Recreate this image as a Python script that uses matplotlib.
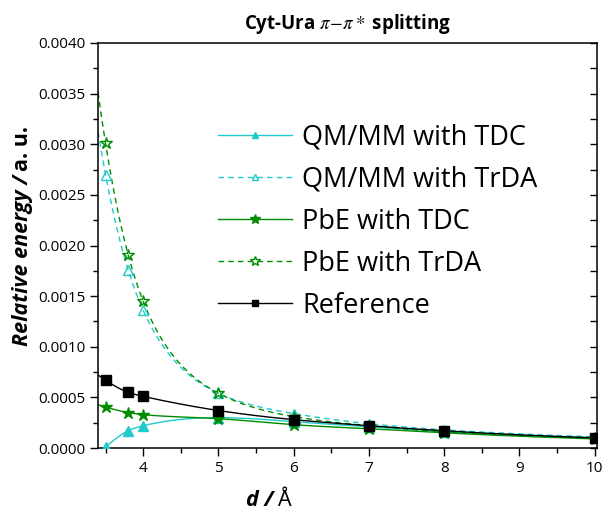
import numpy as np
import matplotlib
matplotlib.use("Agg")
import matplotlib.pyplot as plt
from matplotlib.ticker import MultipleLocator, FormatStrFormatter

plt.rcParams['font.family'] = ['Open Sans', 'DejaVu Sans']
plt.rcParams['mathtext.fontset'] = 'stix'

d = [3.5, 3.8, 4.0, 5.0, 6.0, 7.0, 8.0, 10.0]
qmmm_tdc = [0.00001, 0.00017, 0.00022, 0.00030, 0.00026, 0.00021, 0.00016, 0.00010]
qmmm_trda = [0.00270, 0.00176, 0.00136, 0.00054, 0.00034, 0.00024, 0.00018, 0.00011]
pbe_tdc = [0.000405, 0.00035, 0.00033, 0.00029, 0.00023, 0.00019, 0.00015, 0.00009]
pbe_trda = [0.00301, 0.00191, 0.00145, 0.00054, 0.00031, 0.00022, 0.00016, 0.00010]
reference = [0.00067, 0.00055, 0.00051, 0.00037, 0.00028, 0.00022, 0.00017, 0.00010]

labels = ['QM/MM with TDC', 'QM/MM with TrDA', 'PbE with TDC', 'PbE with TrDA', 'Reference']


def natural_spline(x, y, xs):
    x = np.asarray(x, float); y = np.asarray(y, float)
    n = len(x)
    h = np.diff(x)
    A = np.zeros((n, n)); b = np.zeros(n)
    A[0, 0] = 1; A[-1, -1] = 1
    for i in range(1, n - 1):
        A[i, i - 1] = h[i - 1]
        A[i, i] = 2 * (h[i - 1] + h[i])
        A[i, i + 1] = h[i]
        b[i] = 6 * ((y[i + 1] - y[i]) / h[i] - (y[i] - y[i - 1]) / h[i - 1])
    M = np.linalg.solve(A, b)
    idx = np.clip(np.searchsorted(x, xs) - 1, 0, n - 2)
    x0 = x[idx]; x1 = x[idx + 1]; hh = x1 - x0
    t0 = x1 - xs; t1 = xs - x0
    return (M[idx] * t0**3 / (6 * hh) + M[idx + 1] * t1**3 / (6 * hh)
            + (y[idx] / hh - M[idx] * hh / 6) * t0
            + (y[idx + 1] / hh - M[idx + 1] * hh / 6) * t1)


def smooth(x, y, xs, log=True):
    if log:
        return np.exp(natural_spline(x, np.log(y), xs))
    return natural_spline(x, y, xs)


fig = plt.figure(figsize=(6.02, 5.17), dpi=100)
ax = fig.add_axes([98 / 602, 69 / 517, 499 / 602, 405 / 517])

cyan = '#1ecaca'
green = '#008c00'
xs = np.linspace(3.4, 10.0, 400)
xs_tdc = np.linspace(3.5, 10.0, 400)

series = [
    (qmmm_tdc, cyan, '-', '^', cyan, False, xs_tdc),
    (qmmm_trda, cyan, (0, (4, 3)), '^', 'none', True, xs),
    (pbe_tdc, green, '-', '*', green, True, xs),
    (pbe_trda, green, (0, (4, 3)), '*', 'none', True, xs),
    (reference, 'black', '-', 's', 'black', True, xs),
]
handles = []
for (vals, col, ls, mk, fc, lg, xx), lab in zip(series, labels):
    ax.plot(xx, smooth(d, vals, xx, lg), color=col, ls=ls, lw=1.0, zorder=2)
    ms = 9 if mk == '*' else 7
    ax.plot(d, vals, ls='none', marker=mk, ms=ms, mfc=fc, mec=col, mew=1.0, zorder=3)
    h, = ax.plot([], [], color=col, ls=ls, lw=1.0, marker=mk,
                 ms=(7 if mk == '*' else 5), mfc=fc, mec=col, mew=1.0)
    handles.append(h)

ax.set_xlim(3.4, 10.03)
ax.set_ylim(0, 0.004)
ax.xaxis.set_major_locator(MultipleLocator(1))
ax.xaxis.set_minor_locator(MultipleLocator(0.5))
ax.yaxis.set_major_locator(MultipleLocator(0.0005))
ax.yaxis.set_minor_locator(MultipleLocator(0.00025))
ax.yaxis.set_major_formatter(FormatStrFormatter('%.4f'))
ax.tick_params(axis='both', which='major', direction='out', length=6, width=1,
               labelsize=11, pad=3)
ax.tick_params(axis='both', which='minor', direction='out', length=3.5, width=1)
for sp in ax.spines.values():
    sp.set_linewidth(1.1)

# inward ticks on the right spine
ax2 = ax.twinx()
ax2.set_ylim(ax.get_ylim())
ax2.yaxis.set_major_locator(MultipleLocator(0.00025))
ax2.tick_params(axis='y', direction='in', length=5, width=1, labelright=False)
for sp in ax2.spines.values():
    sp.set_visible(False)

ax.set_title(r'Cyt-Ura $\pi\!-\!\pi*$ splitting', fontsize=13.5, fontweight='bold', pad=10)

fig.canvas.draw()
r = fig.canvas.get_renderer()
inv = fig.transFigure.inverted()

# x label
t1 = fig.text(246 / 602, 1 - 506 / 517, 'd /', fontsize=15.5, fontweight='bold', style='italic',
              ha='left', va='baseline')
bb = t1.get_window_extent(r)
fig.text(inv.transform((bb.x1 + 4, 0))[0], 1 - 506 / 517, 'Å', fontsize=15.5,
         ha='left', va='baseline')

# y label
y1 = fig.text(28 / 602, 1 - 346 / 517, 'Relative energy /', fontsize=15.5, fontweight='bold',
              style='italic', rotation=90, va='baseline', ha='left',
              rotation_mode='anchor')
bb = y1.get_window_extent(r)
fig.text(28 / 602, inv.transform((0, bb.y1 + 4))[1], 'a. u.', fontsize=15.5, fontweight='bold',
         rotation=90, va='baseline', ha='left', rotation_mode='anchor')

ax.legend(handles, labels, loc='upper left', bbox_to_anchor=(0.2405, 0.801), frameon=False,
          fontsize=19.5, handlelength=2.74, handletextpad=0.37,
          labelspacing=0.52, borderpad=0, borderaxespad=0)

fig.savefig('out.png', dpi=100)
